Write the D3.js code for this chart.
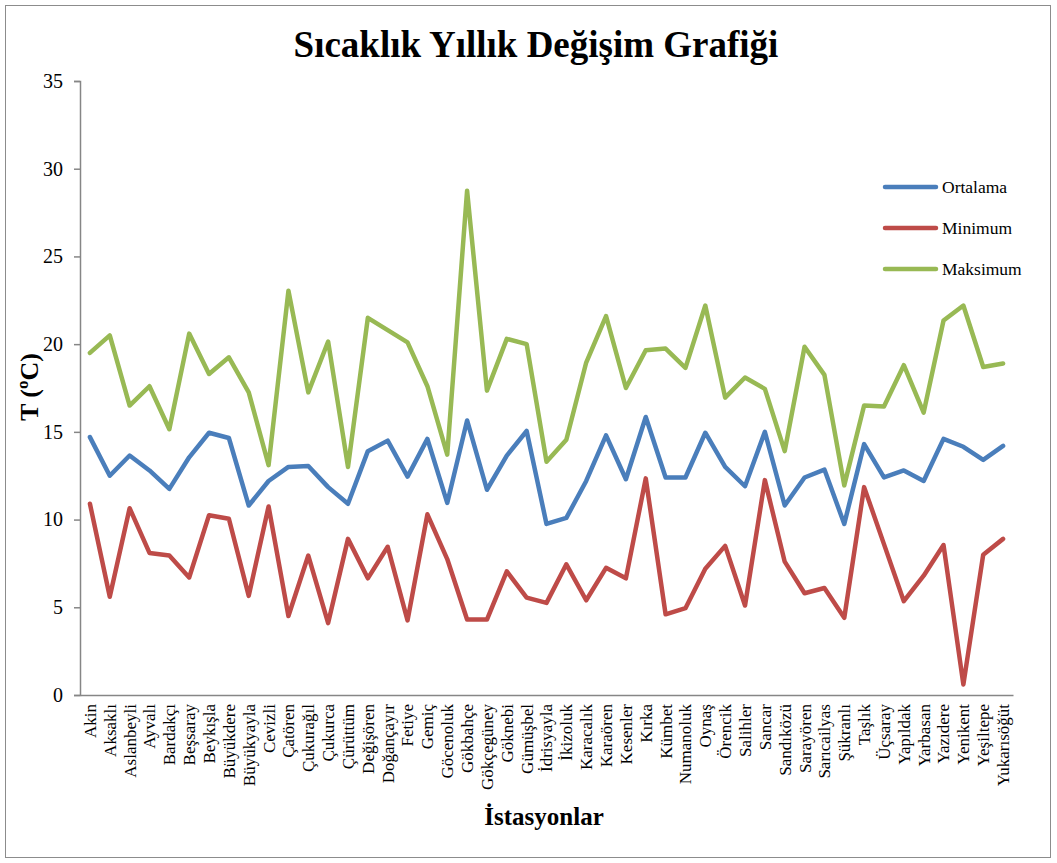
<!DOCTYPE html>
<html>
<head>
<meta charset="utf-8">
<script src="https://cdn.jsdelivr.net/npm/d3@7"></script>
<style>
  body { margin: 0; background: #fff; }
  text { font-family: "Liberation Serif", "Times New Roman", serif; }
</style>
</head>
<body>
<svg id="chart" width="1057" height="863"></svg>
<script>
// station names (x categories)
const stations = ["Akin", "Aksaklı", "Aslanbeyli", "Ayvalı", "Bardakçı", "Beşsaray", "Beykışla", "Büyükdere",
  "Büyükyayla", "Cevizli", "Çatören", "Çukurağıl", "Çukurca", "Çürüttüm", "Değişören", "Doğançayır",
  "Fetiye", "Gemiç", "Göcenoluk", "Gökbahçe", "Gökçegüney", "Göknebi", "Gümüşbel", "İdrisyayla",
  "İkizoluk", "Karacalık", "Karaören", "Kesenler", "Kırka", "Kümbet", "Numanoluk", "Oynaş",
  "Örencik", "Salihler", "Sancar", "Sandıközü", "Sarayören", "Sarıcailyas", "Şükranlı", "Taşlık",
  "Üçsaray", "Yapıldak", "Yarbasan", "Yazıdere", "Yenikent", "Yeşiltepe", "Yukarısöğüt"];

const ortalama = [14.7, 12.5, 13.65, 12.8, 11.75, 13.55, 14.95, 14.65, 10.8, 12.2, 13.0, 13.05, 11.85, 10.9, 13.9, 14.5,
  12.45, 14.6, 10.95, 15.65, 11.7, 13.65, 15.05, 9.75, 10.1, 12.2, 14.8, 12.3, 15.85, 12.4, 12.4, 14.95,
  13.0, 11.9, 15.0, 10.8, 12.4, 12.85, 9.75, 14.3, 12.4, 12.8, 12.2, 14.6, 14.15, 13.4, 14.2];

const minimum = [10.9, 5.6, 10.65, 8.1, 7.95, 6.7, 10.25, 10.05, 5.65, 10.75, 4.5, 7.95, 4.1, 8.9, 6.65, 8.45,
  4.25, 10.3, 7.75, 4.3, 4.3, 7.05, 5.55, 5.25, 7.45, 5.4, 7.25, 6.65, 12.35, 4.6, 4.95, 7.2,
  8.5, 5.1, 12.25, 7.6, 5.8, 6.1, 4.4, 11.85, 8.6, 5.35, 6.8, 8.55, 0.6, 8.0, 8.9];

const maksimum = [19.5, 20.5, 16.5, 17.6, 15.15, 20.6, 18.3, 19.25, 17.25, 13.1, 23.05, 17.25, 20.15, 13.0, 21.5, 20.8,
  20.1, 17.6, 13.7, 28.75, 17.35, 20.3, 20.0, 13.3, 14.55, 18.95, 21.6, 17.5, 19.65, 19.75, 18.65, 22.2,
  16.95, 18.1, 17.45, 13.9, 19.85, 18.25, 11.95, 16.5, 16.45, 18.8, 16.1, 21.35, 22.2, 18.7, 18.9];

const seriesNames = ["Ortalama", "Minimum", "Maksimum"];
const seriesColors = ["#4A7EBB", "#BE4B48", "#98B954"];
const yTicks = [0, 5, 10, 15, 20, 25, 30, 35];

const svg = d3.select("#chart");
const margin = {left: 80, right: 44, top: 81, bottom: 168};
const W = 1057, H = 863;

// outer frame
svg.append("rect")
  .attr("x", 5.5).attr("y", 5.5)
  .attr("width", 1045).attr("height", 852)
  .attr("fill", "#fff").attr("stroke", "#8c8c8c").attr("stroke-width", 1);

const x = d3.scaleBand()
  .domain(stations)
  .range([margin.left, W - margin.right]);

const y = d3.scaleLinear()
  .domain([0, 35])
  .range([H - margin.bottom, margin.top]);

// y axis
const yAxis = svg.append("g")
  .attr("transform", `translate(${margin.left},0)`)
  .call(d3.axisLeft(y).tickValues(yTicks).tickSize(6).tickPadding(11));
yAxis.select(".domain").attr("stroke", "#868686").attr("stroke-width", 1.5);
yAxis.selectAll(".tick line").attr("stroke", "#868686").attr("stroke-width", 1.5);
yAxis.selectAll(".tick text")
  .attr("fill", "#000")
  .style("font-family", "Liberation Serif")
  .style("font-size", "20px");

// x axis
const xAxis = svg.append("g")
  .attr("transform", `translate(0,${H - margin.bottom})`)
  .call(d3.axisBottom(x).tickSize(0).tickSizeOuter(0));
xAxis.select(".domain").attr("stroke", "#868686").attr("stroke-width", 1.5);
xAxis.selectAll(".tick text")
  .attr("fill", "#000")
  .style("font-family", "Liberation Serif")
  .style("font-size", "17px")
  .attr("text-anchor", "end")
  .attr("transform", "rotate(-90)")
  .attr("x", -9)
  .attr("y", 0)
  .attr("dy", "0.35em");

// lines
const allSeries = [ortalama, minimum, maksimum];
const line = d3.line()
  .x((d, i) => x(stations[i]) + x.bandwidth() / 2)
  .y(d => y(d));

allSeries.forEach((s, k) => {
  svg.append("path")
    .datum(s)
    .attr("fill", "none")
    .attr("stroke", seriesColors[k])
    .attr("stroke-width", 4.5)
    .attr("stroke-linejoin", "round")
    .attr("stroke-linecap", "round")
    .attr("d", line);
});

// legend
const legend = svg.append("g");
seriesNames.forEach((name, k) => {
  const ly = 187 + k * 41;
  legend.append("line")
    .attr("x1", 885).attr("x2", 936)
    .attr("y1", ly).attr("y2", ly)
    .attr("stroke", seriesColors[k])
    .attr("stroke-width", 4.5)
    .attr("stroke-linecap", "round");
  legend.append("text")
    .attr("x", 942).attr("y", ly)
    .attr("dy", "0.35em")
    .style("font-size", "17.5px")
    .text(name);
});

// title
svg.append("text")
  .attr("x", 536).attr("y", 57)
  .attr("text-anchor", "middle")
  .style("font-size", "37px")
  .style("font-weight", "bold")
  .text("Sıcaklık Yıllık Değişim Grafiği");

// y label
svg.append("text")
  .attr("transform", "translate(38,387) rotate(-90)")
  .attr("text-anchor", "middle")
  .style("font-size", "26px")
  .style("font-weight", "bold")
  .text("T (ºC)");

// x label
svg.append("text")
  .attr("x", 544).attr("y", 825)
  .attr("text-anchor", "middle")
  .style("font-size", "25px")
  .style("font-weight", "bold")
  .text("İstasyonlar");
</script>
</body>
</html>
